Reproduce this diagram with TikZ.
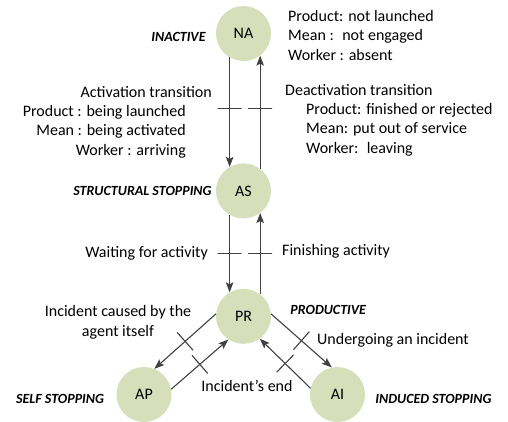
\documentclass[tikz,border=0pt]{standalone}
\usepackage{fontspec}
\setmainfont{Carlito}
\usetikzlibrary{positioning,arrows.meta}
\definecolor{statefill}{RGB}{215,222,186}
\definecolor{linegray}{RGB}{64,64,64}
\tikzset{state/.style = {circle,fill=statefill,minimum size=55pt,inner sep=0pt,font=\fontsize{16}{19.5}\selectfont}}
\tikzset{arrow/.style = {-{Stealth[length=10pt,width=7.5pt,inset=2pt]},color=linegray,line width=1.1pt}}
\tikzset{tick/.style = {-,draw=linegray,line width=1.1pt,sloped,minimum width=0pt,minimum height=24pt,inner sep=0pt}}
\tikzset{tag/.style = {inner sep=0pt,font=\fontsize{14}{17}\selectfont\bfseries\itshape}}
\tikzset{note/.style = {inner sep=0pt,font=\fontsize{16}{19.5}\selectfont}}

\begin{document}
\begin{tikzpicture}[x=1pt,y=-1pt]
		\useasboundingbox (0,0) rectangle (508,421);
		\node[state] (NA) at (243.5,33.5) {NA};
		\node[state, below=102pt of NA] (AS) {AS};
		\node[state, below=70pt of AS] (PR) {PR};
		\node[state] (AP) at (144,394.5) {AP};
		\node[state] (AI) at (337.5,394.5) {AI};
		\node[tag, left=10pt of NA, yshift=-3.5pt] (inactive) {INACTIVE};
		\node[tag, left=4pt of AS] (structural) {STRUCTURAL STOPPING};
		\node[tag, right=19pt of PR, yshift=6.5pt] (productive) {PRODUCTIVE};
		\node[tag, left=12pt of AP, yshift=-4.5pt] (self) {SELF STOPPING};
		\node[tag, right=10pt of AI, yshift=-4.5pt] (induced) {INDUCED STOPPING};
		% multi-line notes: base is the last line
		\node[note, anchor=base west, align=left] (naInfo) at (288,60) {Product: not launched\\Mean : \ not engaged\\Worker : absent};
		\node[note, anchor=base east] (actTitle) at (212,97) {Activation transition};
		\node[note, anchor=base east, align=right] (actInfo) at (186,155) {Product : being launched\\Mean : being activated\\Worker : arriving};
		\node[note, anchor=base west] (deactTitle) at (285,95) {Deactivation transition};
		\node[note, anchor=base west, align=left] (deactInfo) at (306,153) {Product: finished or rejected\\Mean: put out of service\\Worker: \ leaving};
		\node[note, anchor=base east] (waiting) at (208,257) {Waiting for activity};
		\node[note, anchor=base west] (finishing) at (282,255) {Finishing activity};
		\node[note, anchor=base, align=center] (caused) at (118,336) {Incident caused by the\\agent itself};
		\node[note, anchor=base west] (undergoing) at (317,344) {Undergoing an incident};
		\node[note, anchor=base] (incEnd) at (247,391) {Incident's end};
		\path[arrow] (NA.-120) edge node[tick, pos=0.47] {} (AS.120);
		\path[arrow] (AS.53) edge node[tick, pos=0.53] {} (NA.-53);
		\path[arrow] (AS.-120) edge node[tick] {} (PR.120);
		\path[arrow] (PR.53) edge node[tick] {} (AS.-53);
		\path[arrow] (PR.175) edge node[tick] {} (AP.68);
		\path[arrow] (AP.11) edge node[tick] {} (PR.-123);
		\path[arrow] (PR.5) edge node[tick] {} (AI.102);
		\path[arrow] (AI.167) edge node[tick] {} (PR.-54);
	\end{tikzpicture}
\end{document}
